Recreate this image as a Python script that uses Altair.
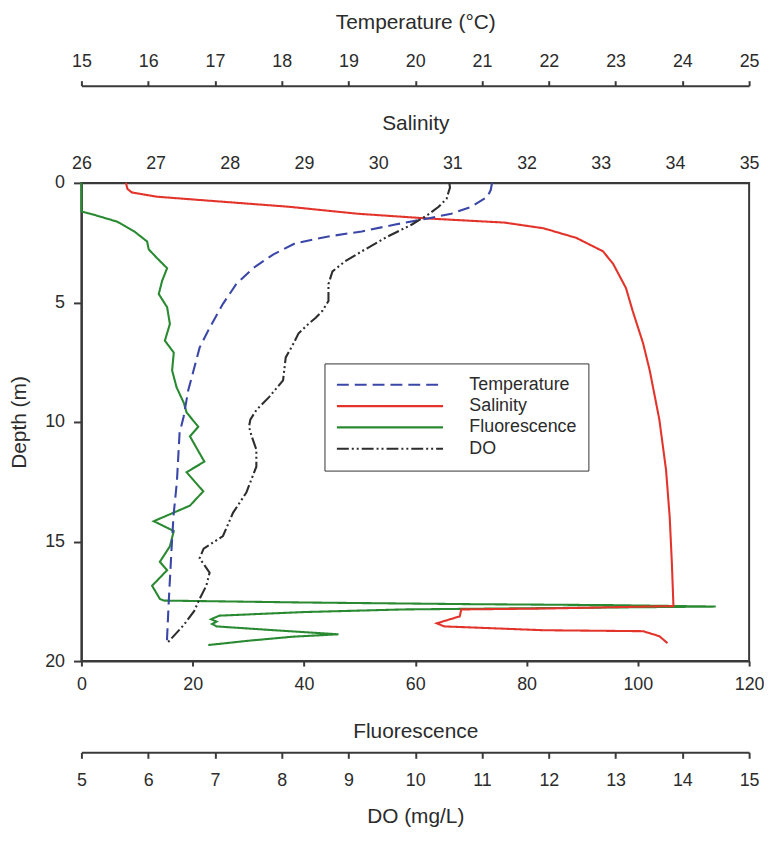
import altair as alt
import pandas as pd

# ---------------- data ----------------
series_names = ["Temperature", "Salinity", "Fluorescence", "DO"]

temp_depth = [0.0, 0.3, 0.58, 1.0, 1.29, 1.49, 1.74, 2.03, 2.24, 2.53, 3.0, 3.57, 4.23,
              5.06, 6.06, 6.89, 7.84, 8.67, 9.79, 10.46, 12.5, 13.9, 15.3, 17.4, 19.2]
temp_val = [21.15, 21.13, 21.08, 20.84, 20.54, 20.19, 19.70, 19.20, 18.70, 18.20, 17.87, 17.57, 17.32,
            17.12, 16.92, 16.77, 16.68, 16.60, 16.53, 16.47, 16.43, 16.38, 16.35, 16.31, 16.28]

sal_depth = [0.0, 0.25, 0.4, 0.58, 0.79, 1.0, 1.29, 1.49, 1.66, 1.9, 2.3, 2.86, 3.4, 4.4, 5.35,
             6.7, 7.84, 9.9, 12.0, 14.0, 16.0, 17.7, 17.72, 17.8, 17.84, 18.13, 18.42, 18.55,
             18.71, 18.75, 18.96, 19.25]
sal_val = [26.60, 26.62, 26.68, 27.02, 27.91, 28.80, 29.72, 30.67, 31.70, 32.23, 32.67, 33.03, 33.17,
           33.34, 33.43, 33.57, 33.66, 33.79, 33.88, 33.93, 33.96, 33.98, 33.61, 32.30, 31.12, 31.10,
           30.79, 30.89, 32.23, 33.57, 33.79, 33.90]

fl_depth = [0.0, 1.2, 1.29, 1.62, 2.03, 2.45, 2.78, 3.15, 3.57, 4.1, 4.65, 5.2, 5.9, 6.6, 7.1, 7.84,
            8.55, 9.2, 9.6, 10.2, 10.6, 11.66, 12.1, 12.9, 13.5, 14.15, 14.56, 15.2, 15.85, 16.2,
            16.85, 17.4, 17.47, 17.55, 17.62, 17.66, 17.72, 17.78, 17.84, 17.95, 18.1, 18.25, 18.35,
            18.45, 18.55, 18.7, 18.88, 18.98, 19.15, 19.33]
fl_val = [0.0, 0.0, 1.6, 6.4, 9.5, 11.8, 12.1, 13.6, 15.4, 14.5, 13.9, 15.4, 15.9, 15.0, 16.6, 16.3,
          17.1, 18.4, 18.9, 21.0, 19.5, 22.1, 18.9, 21.9, 19.5, 13.0, 16.6, 15.9, 14.1, 15.4,
          12.7, 14.1, 14.8, 40.0, 70.0, 95.0, 114.0, 85.0, 58.0, 40.0, 24.8, 23.3, 24.3,
          23.5, 24.3, 34.0, 46.2, 38.0, 30.0, 22.8]

do_depth = [0.0, 0.2, 0.37, 0.66, 1.0, 1.33, 1.74, 2.24, 2.86, 3.28, 3.7, 4.23, 4.94, 5.35, 5.64,
            5.9, 6.3, 6.7, 7.3, 8.26, 8.96, 9.5, 9.9, 10.2, 10.6, 11.16, 11.87, 12.95, 13.8, 14.77,
            15.3, 15.7, 16.3, 16.85, 17.4, 17.9, 18.5, 19.2]
do_val = [10.51, 10.52, 10.50, 10.47, 10.35, 10.19, 9.95, 9.59, 9.20, 8.95, 8.76, 8.70, 8.70, 8.61,
          8.51, 8.40, 8.25, 8.18, 8.06, 8.02, 7.81, 7.62, 7.53, 7.51, 7.55, 7.62, 7.62, 7.47, 7.27,
          7.12, 6.83, 6.77, 6.92, 6.87, 6.77, 6.69, 6.53, 6.30]

temp_ticks = list(range(15, 26))
sal_ticks = list(range(26, 36))
fl_ticks = [0, 20, 40, 60, 80, 100, 120]
do_ticks = list(range(5, 16))
depth_ticks = [0, 5, 10, 15, 20]

# ---------------- styling ----------------
FONT = "Liberation Sans"
TXT = "#2b2b2b"
AX = "#3a3a3a"
colors = ["#3b47a8", "#e3342c", "#2a8a32", "#2d2d2d"]
dashes = [[12, 6], [1, 0], [1, 0], [12, 3, 2, 3, 2, 3]]


def frame(d, v, name):
    return pd.DataFrame({"depth": d, "value": v, "series": name, "i": list(range(len(d)))})


color_scale = alt.Scale(domain=series_names, range=colors)
dash_scale = alt.Scale(domain=series_names, range=dashes)

legend = alt.Legend(
    title=None, orient="none", legendX=245, legendY=182,
    symbolType="stroke", symbolSize=11449, symbolStrokeWidth=2.2,
    labelFont=FONT, labelFontSize=18, labelColor=TXT, labelOffset=25,
    strokeColor="#333333", fillColor="white", padding=11,
    clipHeight=21, rowPadding=0.5,
)

y_axis = alt.Axis(values=depth_ticks, title="Depth (m)", tickSize=8, labelPadding=9,
                  titlePadding=15)
y_enc = alt.Y("depth:Q", scale=alt.Scale(domain=[0, 20], reverse=True, nice=False, zero=False),
              axis=y_axis)


def layer(df, domain, axis):
    return alt.Chart(df).mark_line(strokeWidth=2.1).encode(
        x=alt.X("value:Q", scale=alt.Scale(domain=domain, nice=False, zero=False), axis=axis),
        y=y_enc,
        order=alt.Order("i:Q"),
        color=alt.Color("series:N", scale=color_scale, legend=legend),
        strokeDash=alt.StrokeDash("series:N", scale=dash_scale, legend=legend),
    )


ax_fl = alt.Axis(orient="bottom", values=fl_ticks, title="Fluorescence", tickSize=5,
                 labelPadding=10, titlePadding=27)
ax_do = alt.Axis(orient="bottom", offset=92, values=do_ticks, title="DO (mg/L)", tickSize=6,
                 labelPadding=13, titlePadding=17)
ax_sal = alt.Axis(orient="top", values=sal_ticks, title="Salinity", ticks=False,
                  labelPadding=10, titlePadding=22)
ax_temp = alt.Axis(orient="top", offset=98, values=temp_ticks, title="Temperature (°C)",
                   tickSize=5, labelPadding=10, titlePadding=21)

chart = alt.layer(
    layer(frame(fl_depth, fl_val, "Fluorescence"), [0, 120], ax_fl),
    layer(frame(sal_depth, sal_val, "Salinity"), [26, 35], ax_sal),
    layer(frame(temp_depth, temp_val, "Temperature"), [15, 25], ax_temp),
    layer(frame(do_depth, do_val, "DO"), [5, 15], ax_do),
).resolve_scale(x="independent").properties(
    width=673, height=482, background="white",
    autosize=alt.AutoSizeParams(type="none"),
    padding={"left": 74, "top": 173, "right": 15, "bottom": 166},
).configure_view(
    stroke=AX, strokeWidth=2
).configure_axis(
    grid=False, labelFlush=False, labelFont=FONT, labelFontSize=18, labelColor=TXT,
    titleFont=FONT, titleFontSize=21, titleFontWeight="normal", titleColor=TXT,
    domainColor=AX, domainWidth=2, tickColor=AX, tickWidth=2,
)

chart.save("out.html", embed_options={"renderer": "svg", "actions": False})
